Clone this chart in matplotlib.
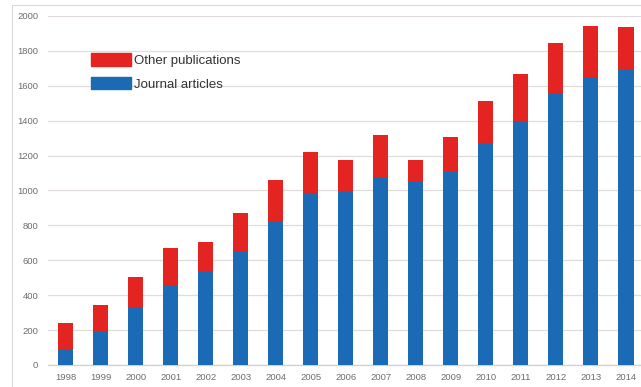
import matplotlib.pyplot as plt
from matplotlib.patches import Rectangle, Patch

years = ['1998', '1999', '2000', '2001', '2002', '2003', '2004', '2005', '2006',
         '2007', '2008', '2009', '2010', '2011', '2012', '2013', '2014']
journal_articles = [86, 191, 331, 457, 531, 649, 821, 984, 992,
                    1070, 1047, 1113, 1270, 1400, 1557, 1649, 1694]
totals = [240, 342, 506, 672, 705, 871, 1063, 1222, 1175,
          1318, 1175, 1308, 1513, 1666, 1847, 1943, 1939]
other_publications = [t - j for t, j in zip(totals, journal_articles)]

red = '#e42421'
blue = '#1b6ab6'
grid_col = '#e3dcdc'
tick_col = '#6e6e6e'

fig = plt.figure(figsize=(6.41, 3.87), dpi=100)

# outer chart frame (cropped on the right and bottom in the original)
fig.patches.append(Rectangle((11.5 / 641, -0.1), 1.2, (387 - 5) / 387 + 0.1,
                             transform=fig.transFigure, fill=False,
                             edgecolor='#d9d9d9', linewidth=0.8))

ax = fig.add_axes([48 / 641, 22 / 387, 595.5 / 641, 349 / 387])
x = range(len(years))
ax.bar(x, journal_articles, width=0.43, color=blue, label='Journal articles', zorder=3)
ax.bar(x, other_publications, width=0.43, bottom=journal_articles, color=red,
       label='Other publications', zorder=3)

ax.set_xlim(-0.5, 16.5)
ax.set_ylim(0, 2000)
ax.set_yticks(range(0, 2001, 200))
ax.set_xticks(list(x))
ax.set_xticklabels(years)
ax.yaxis.grid(True, color=grid_col, linewidth=0.9, zorder=0)
ax.set_axisbelow(True)
for side in ['top', 'right', 'left']:
    ax.spines[side].set_visible(False)
ax.spines['bottom'].set_color('#d0d0d0')
ax.spines['bottom'].set_linewidth(0.9)
ax.tick_params(axis='both', length=0, labelsize=6.8, labelcolor=tick_col,
               labelfontfamily='Liberation Sans')
ax.tick_params(axis='y', pad=7)
ax.tick_params(axis='x', pad=6)

handles = [Patch(color=red, label='Other publications'),
           Patch(color=blue, label='Journal articles')]
ax.legend(handles=handles, loc='upper left', bbox_to_anchor=(91 / 641, 1 - 53 / 387),
          bbox_transform=fig.transFigure, frameon=False, borderpad=0,
          borderaxespad=0, handlelength=3.0, handleheight=1.1, handletextpad=0.25,
          labelspacing=0.75, prop={'family': 'Liberation Sans', 'size': 9.5},
          labelcolor='#333333')

fig.savefig('out.png', dpi=100)
